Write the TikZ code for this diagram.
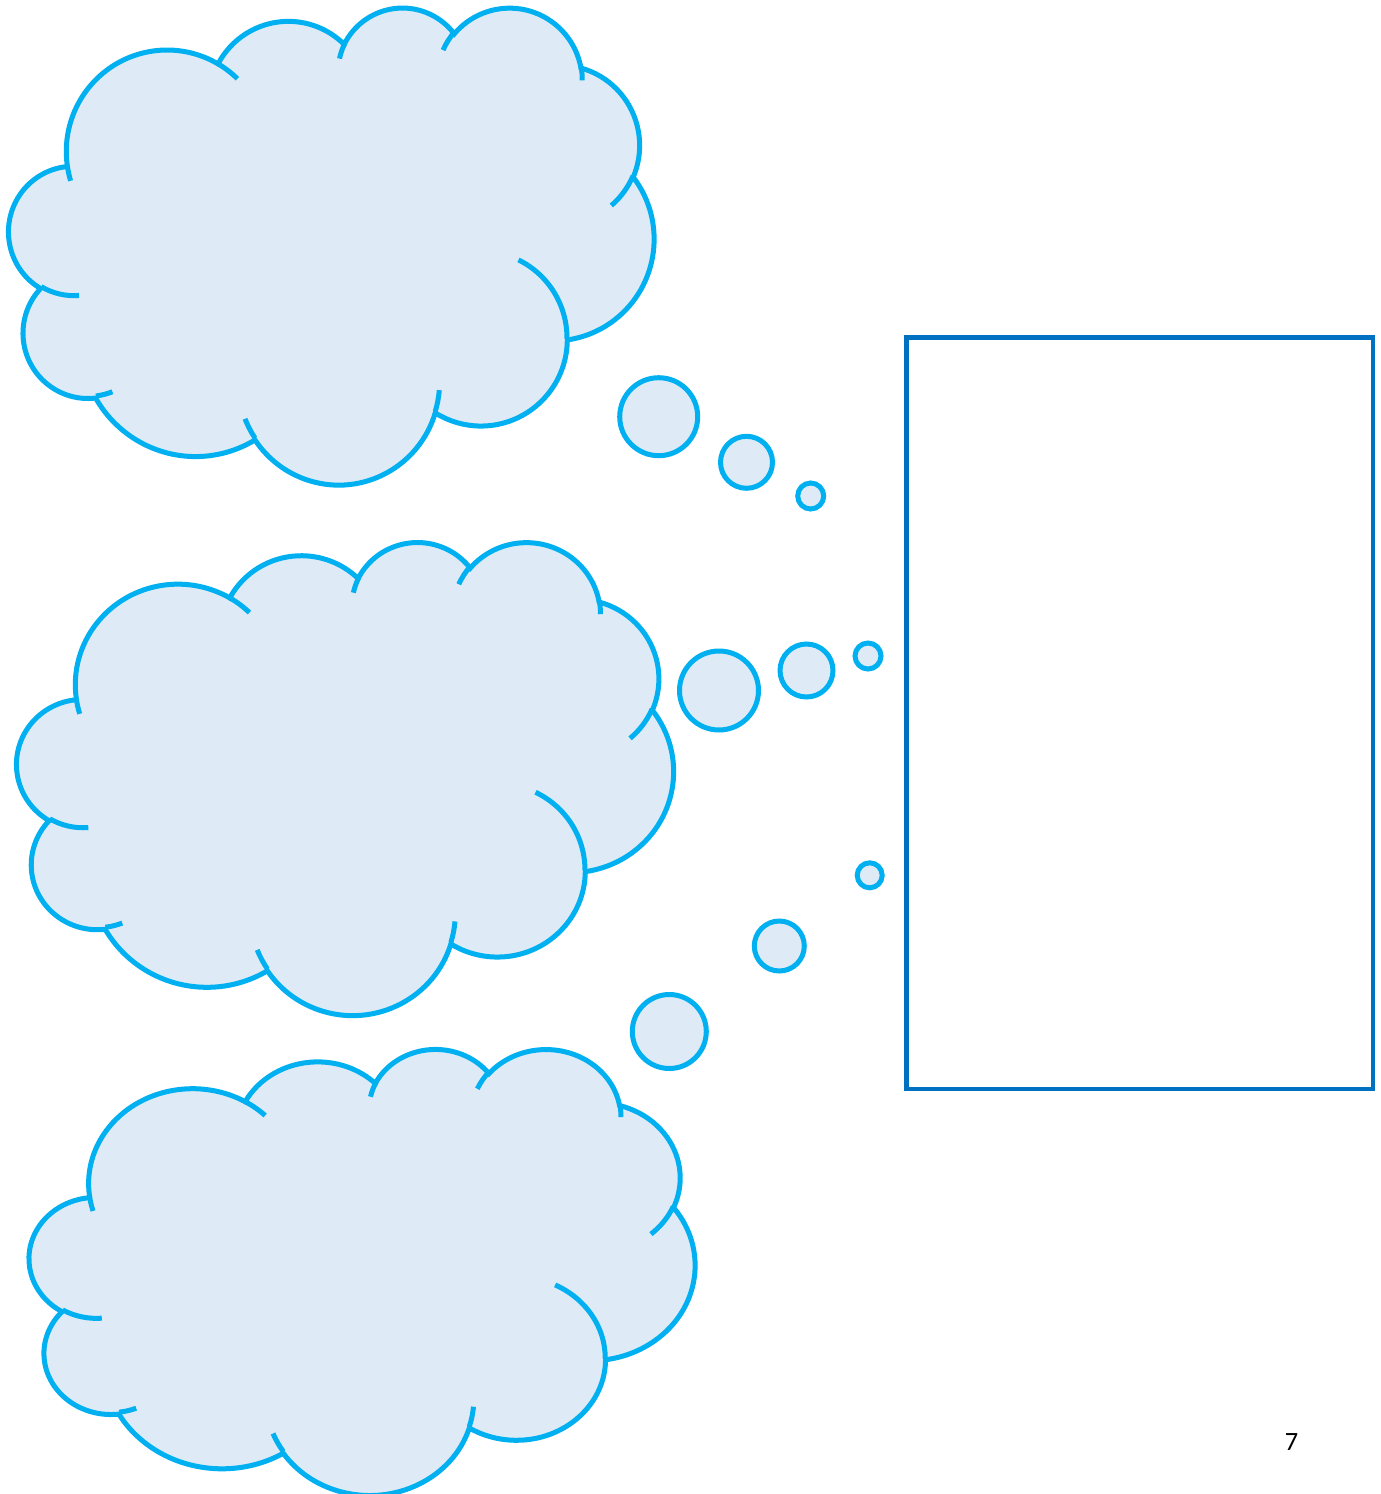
\documentclass[tikz,border=0pt]{standalone}
\usepackage{fontspec}
\setmainfont{Carlito}
\definecolor{cloudblue}{HTML}{00B0F0}
\definecolor{cloudfill}{HTML}{DEEBF7}
\definecolor{boxblue}{HTML}{0070C0}
\tikzset{
  oa/.style n args={4}{x radius=#1, y radius=#2,
    start angle={atan2((#1)*sin(#3),(#2)*cos(#3))},
    delta angle={mod(atan2((#1)*sin((#3)+(#4)),(#2)*cos((#3)+(#4)))-atan2((#1)*sin(#3),(#2)*cos(#3))+720,360)}},
  cloudbody/.style={draw=cloudblue, fill=cloudfill, line width=2.85pt},
  cloudline/.style={draw=cloudblue, line width=2.85pt},
  bubble/.style={draw=cloudblue, fill=cloudfill, line width=2.85pt},
  framebox/.style={draw=boxblue, line width=2.6pt},
}
\newcommand\mycloud[4]{%
  \begin{scope}[shift={(#1,#2)}, xscale={#3/2160}, yscale={-#4/2160}, x=1cm, y=1cm]
    \path[cloudbody] (3.900,14.370)
      arc[oa={6.753}{9.190}{-190.4875}{123.7805}]
      arc[oa={5.333}{7.267}{-144.1024}{89.9452}]
      arc[oa={4.365}{5.945}{-145.8079}{99.7230}]
      arc[oa={4.857}{6.595}{-130.9861}{117.2417}]
      arc[oa={5.333}{7.273}{-78.7089}{109.0269}]
      arc[oa={6.775}{9.220}{-46.2673}{130.2690}]
      arc[oa={5.785}{7.867}{0.6250}{114.0333}]
      arc[oa={6.752}{9.215}{22.4516}{115.1726}]
      arc[oa={7.720}{10.543}{66.2426}{75.7110}]
      arc[oa={4.360}{5.918}{-274.9421}{146.7356}]
      arc[oa={4.345}{5.945}{-246.8285}{152.5189}]
      -- cycle;
    \path[cloudline] (4.693,26.177) arc[oa={4.345}{5.945}{86.7420}{26.4295}];
    \path[cloudline] (6.928,34.899) arc[oa={4.360}{5.918}{73.6105}{11.4475}];
    \path[cloudline] (16.478,39.090) arc[oa={6.752}{9.215}{137.6242}{14.0811}];
    \path[cloudline] (28.827,34.751) arc[oa={6.752}{9.215}{6.4533}{15.9984}];
    \path[cloudline] (34.129,22.954) arc[oa={5.785}{7.867}{-70.2924}{70.9174}];
    \path[cloudline] (41.798,15.354) arc[oa={5.333}{7.273}{30.3180}{27.7515}];
    \path[cloudline] (38.324,5.426) arc[oa={4.857}{6.595}{-13.7443}{14.8589}];
    \path[cloudline] (29.078,3.952) arc[oa={4.857}{6.595}{-149.1815}{18.1954}];
    \path[cloudline] (22.141,4.720) arc[oa={4.365}{5.945}{-163.4943}{17.6864}];
    \path[cloudline] (14.000,5.192) arc[oa={6.753}{9.190}{-66.7070}{12.3194}];
    \path[cloudline] (4.127,15.789) arc[oa={6.753}{9.190}{157.6544}{11.8582}];
  \end{scope}}
\begin{document}
\begin{tikzpicture}[x=0.02cm, y=-0.02cm]
\useasboundingbox (0,0) rectangle (1380,1494);
% clouds
\mycloud{9}{6.5}{645}{477}
\mycloud{17}{541}{656.5}{473}
\mycloud{29.5}{1048}{665.5}{446}
% thought bubbles, top group
\path[bubble] (658.7,416.7) circle[radius=0.78cm];
\path[bubble] (746.5,462.3) circle[radius=0.52cm];
\path[bubble] (810.7,496) circle[radius=0.26cm];
% middle group
\path[bubble] (719,690.5) circle[radius=0.79cm];
\path[bubble] (806.5,670.5) circle[radius=0.53cm];
\path[bubble] (868,656) circle[radius=0.26cm];
% bottom group
\path[bubble] (669.3,1031.5) circle[radius=0.74cm];
\path[bubble] (779.3,946) circle[radius=0.5cm];
\path[bubble] (869.7,875.3) circle[radius=0.25cm];
% frame
\path[framebox] (906.5,337.5) rectangle (1373,1089);
\node[font=\fontsize{15}{18}\selectfont, inner sep=0pt] (pagenum) at (1291.5,1442) {7};
\end{tikzpicture}
\end{document}
